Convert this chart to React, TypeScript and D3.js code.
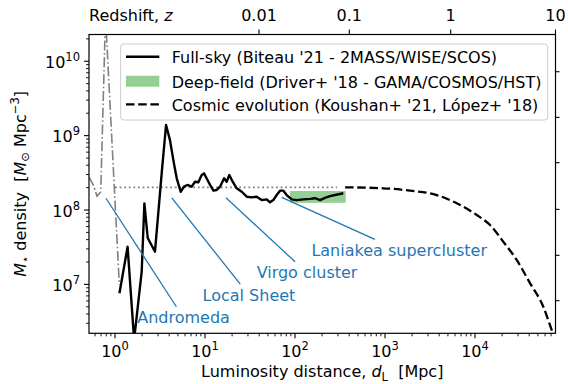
import React from 'react';
import * as d3 from 'd3';

// ---------- data ----------
// axis limits
const xDomain = [0.514, 78400]; // luminosity distance [Mpc]
const yDomain = [2.2e6, 2.29e10]; // stellar mass density [Msun / Mpc^3]

// Full-sky (Biteau '21)
const fullSkyDist = [1.12, 1.38, 1.63, 1.98, 2.12, 2.31, 2.78, 3.3, 3.69, 4.08, 4.52, 4.85, 5.37, 5.84, 6.36, 7.11, 7.74, 8.43, 9.19, 9.75, 10.4, 11.4, 12.4, 13.5, 14.7, 16.3, 17.4, 18.6, 20.3, 22.5, 25.6, 29.1, 33.0, 37.5, 42.7, 48.5, 52.7, 57.4, 62.6, 68.1, 74.1, 80.9, 91.9, 104, 124, 147, 167, 190, 215, 245, 278, 344];
const fullSkyDensity = [7.6e6, 3.2e7, 1.8e6, 1.5e7, 1.23e8, 4.2e7, 2.75e7, 3.1e8, 1.39e9, 8.7e8, 4.2e8, 2.67e8, 1.76e8, 2.06e8, 2.17e8, 2.06e8, 2.4e8, 2.36e8, 2.95e8, 3.11e8, 2.67e8, 2.17e8, 1.82e8, 1.86e8, 2.06e8, 2.67e8, 2.4e8, 2.95e8, 2.4e8, 1.96e8, 1.76e8, 1.51e8, 1.48e8, 1.51e8, 1.36e8, 1.39e8, 1.27e8, 1.36e8, 1.59e8, 1.82e8, 1.82e8, 1.59e8, 1.39e8, 1.36e8, 1.39e8, 1.41e8, 1.44e8, 1.36e8, 1.46e8, 1.54e8, 1.59e8, 1.68e8];

// Local (very nearby) gray dash-dot curve
const localDist = [0.514, 0.58, 0.631, 0.694, 0.784, 1.117];
const localDensity = [2.8e8, 2.1e8, 1.54e8, 1.75e8, 4.0e10, 9.8e6];

// Deep-field band (Driver+ '18)
const deepFieldDist = [88, 366];
const deepFieldDensity = [1.25e8, 1.8e8];

// Cosmic evolution (Koushan+ '21, López+ '18)
const cosmicDist = [360, 957, 1897, 3750, 6266, 10450, 14690, 20610, 29040, 40830, 57410, 71120, 78400];
const cosmicDensity = [2.02e8, 1.96e8, 1.82e8, 1.59e8, 1.23e8, 8.57e7, 6.28e7, 3.75e7, 2.13e7, 1.04e7, 5.01e6, 2.44e6, 1.79e6];

// local-universe reference level (dotted)
const dottedDist = [1, 293];
const dottedDensity = [2.02e8, 2.02e8];

// annotations
const annotationLabels = ['Andromeda', 'Local Sheet', 'Virgo cluster', 'Laniakea supercluster'];
const annotationTargetDist = [0.794, 4.27, 17.1, 71.1];
const annotationTargetDensity = [1.44e8, 1.46e8, 1.46e8, 1.48e8];
const annotationTextDist = [5.77, 30.8, 136, 1438];
const annotationTextDensity = [3.56e6, 7.16e6, 1.43e7, 2.86e7];

// top axis: redshift ticks and matching luminosity distances
const redshiftTicks = ['0.01', '0.1', '1', '10'];
const redshiftTickDist = [39.8, 401, 5370, 78400];

// right-side unlabeled ticks
const rightTickDensities = [7.23e9, 1.76e9, 4.33e8, 1.02e8, 2.46e7, 6.04e6];

const legendLabels = [
  "Full-sky (Biteau '21 - 2MASS/WISE/SCOS)",
  "Deep-field (Driver+ '18 - GAMA/COSMOS/HST)",
  "Cosmic evolution (Koushan+ '21, López+ '18)",
];

// ---------- layout ----------
const W = 568;
const H = 384;
const M = { left: 89, right: 555.5, top: 34.5, bottom: 333.3 };
const FONT = "'DejaVu Sans', sans-serif";
const FS = 16;
const C0 = '#1f77b4';

function logTicks(dom: number[]) {
  const out: { v: number; major: boolean }[] = [];
  const lo = Math.floor(Math.log10(dom[0]));
  const hi = Math.ceil(Math.log10(dom[1]));
  for (let e = lo; e <= hi; e++) {
    for (let m = 1; m <= 9; m++) {
      const v = m * Math.pow(10, e);
      if (v >= dom[0] * 0.9999 && v <= dom[1] * 1.0001) out.push({ v, major: m === 1 });
    }
  }
  return out;
}

function Pow({ x, y, exp, anchor }: { x: number; y: number; exp: string; anchor: string }) {
  return (
    <text x={x} y={y} textAnchor={anchor} fontFamily={FONT} fontSize={FS} fill="#000">
      10
      <tspan dy={-7} fontSize={11.5}>{exp}</tspan>
    </text>
  );
}

export default function App() {
  const x = d3.scaleLog().domain(xDomain).range([M.left, M.right]);
  const y = d3.scaleLog().domain(yDomain).range([M.bottom, M.top]);
  const line = d3
    .line<[number, number]>()
    .x((d) => x(d[0]))
    .y((d) => y(d[1]));
  const smooth = d3
    .line<[number, number]>()
    .x((d) => x(d[0]))
    .y((d) => y(d[1]))
    .curve(d3.curveMonotoneX);

  const zip = (a: number[], b: number[]) => a.map((v, i) => [v, b[i]] as [number, number]);

  const xt = logTicks(xDomain);
  const yt = logTicks(yDomain);

  const legX0 = 120.7;
  const legY0 = 44;
  const legW = 427;
  const legH = 76;
  const rows = [56.8, 81.2, 104.4];
  const hx0 = 126;
  const hx1 = 159.3;
  const tx = 171.7;

  return (
    <svg width={W} height={H} style={{ position: 'absolute', left: 0, top: 0 }} xmlns="http://www.w3.org/2000/svg">
      <defs>
        <clipPath id="plotclip">
          <rect x={M.left} y={M.top} width={M.right - M.left} height={M.bottom - M.top} />
        </clipPath>
      </defs>
      <rect x={0} y={0} width={W} height={H} fill="#fff" />

      <g clipPath="url(#plotclip)">
        {/* deep-field band */}
        <rect
          x={x(deepFieldDist[0])}
          y={y(deepFieldDensity[1])}
          width={x(deepFieldDist[1]) - x(deepFieldDist[0])}
          height={y(deepFieldDensity[0]) - y(deepFieldDensity[1])}
          fill="#2ca02c"
          fillOpacity={0.5}
        />
        {/* dotted reference */}
        <path d={line(zip(dottedDist, dottedDensity)) || ''} fill="none" stroke="#808080" strokeWidth={1.8} strokeDasharray="1.8,2.8" />
        {/* local dash-dot */}
        <path d={line(zip(localDist, localDensity)) || ''} fill="none" stroke="#808080" strokeWidth={1.6} strokeDasharray="10,2.6,1.6,2.6" />
        {/* cosmic evolution */}
        <path d={smooth(zip(cosmicDist, cosmicDensity)) || ''} fill="none" stroke="#000" strokeWidth={2.3} strokeDasharray="8.5,3.7" />
        {/* full-sky */}
        <path d={line(zip(fullSkyDist, fullSkyDensity)) || ''} fill="none" stroke="#000" strokeWidth={2.4} strokeLinejoin="round" />
      </g>

      {/* annotations */}
      {annotationLabels.map((lab, i) => {
        const sx = x(annotationTargetDist[i]);
        const sy = y(annotationTargetDensity[i]);
        const cx = x(annotationTextDist[i]);
        const cy = y(annotationTextDensity[i]);
        const dx = cx - sx;
        const dy = cy - sy;
        const halfH = 11;
        const halfW = lab.length * 4.7;
        const t = 1 - Math.min(halfH / Math.abs(dy), halfW / Math.abs(dx));
        return (
          <g key={lab}>
            <line x1={sx} y1={sy} x2={sx + t * dx} y2={sy + t * dy} stroke={C0} strokeWidth={1.3} />
            <text x={cx} y={cy + 5.5} textAnchor="middle" fontFamily={FONT} fontSize={FS} fill={C0}>
              {lab}
            </text>
          </g>
        );
      })}

      {/* spines */}
      <rect x={M.left} y={M.top} width={M.right - M.left} height={M.bottom - M.top} fill="none" stroke="#000" strokeWidth={1.2} />

      {/* bottom ticks */}
      {xt.map((t, i) => (
        <line key={'xb' + i} x1={x(t.v)} x2={x(t.v)} y1={M.bottom} y2={M.bottom + (t.major ? 5 : 3)} stroke="#000" strokeWidth={t.major ? 1.1 : 0.9} />
      ))}
      {xt
        .filter((t) => t.major)
        .map((t, i) => (
          <Pow key={'xl' + i} x={x(t.v)} y={356.5} exp={String(Math.round(Math.log10(t.v)))} anchor="middle" />
        ))}

      {/* left ticks */}
      {yt.map((t, i) => (
        <line key={'yl' + i} x1={M.left} x2={M.left - (t.major ? 5 : 3)} y1={y(t.v)} y2={y(t.v)} stroke="#000" strokeWidth={t.major ? 1.1 : 0.9} />
      ))}
      {yt
        .filter((t) => t.major)
        .map((t, i) => (
          <Pow key={'yll' + i} x={80} y={y(t.v) + 6.5} exp={String(Math.round(Math.log10(t.v)))} anchor="end" />
        ))}

      {/* right ticks */}
      {rightTickDensities.map((v, i) => (
        <line key={'yr' + i} x1={M.right} x2={M.right + 4} y1={y(v)} y2={y(v)} stroke="#000" strokeWidth={1.1} />
      ))}

      {/* top ticks: redshift */}
      {redshiftTickDist.map((d, i) => (
        <g key={'zt' + i}>
          <line x1={x(d)} x2={x(d)} y1={M.top} y2={M.top - 5} stroke="#000" strokeWidth={1.1} />
          <text x={x(d)} y={20.5} textAnchor="middle" fontFamily={FONT} fontSize={FS} fill="#000">
            {redshiftTicks[i]}
          </text>
        </g>
      ))}
      <text x={M.left} y={20.5} fontFamily={FONT} fontSize={FS} fill="#000" style={{ whiteSpace: 'pre' }}>
        {'Redshift, '}
        <tspan fontStyle="italic">z</tspan>
      </text>

      {/* axis labels */}
      <text x={(M.left + M.right) / 2} y={377} textAnchor="middle" fontFamily={FONT} fontSize={FS} fill="#000" style={{ whiteSpace: 'pre' }}>
        {'Luminosity distance, '}
        <tspan fontStyle="italic">d</tspan>
        <tspan dy={3.5} fontSize={11.5}>L</tspan>
        <tspan dy={-3.5}>{'  [Mpc]'}</tspan>
      </text>
      <text
        transform={`translate(25.5,${(M.top + M.bottom) / 2}) rotate(-90)`}
        textAnchor="middle"
        fontFamily={FONT}
        fontSize={FS}
        fill="#000"
        style={{ whiteSpace: 'pre' }}
      >
        <tspan fontStyle="italic">M</tspan>
        <tspan dy={3.5} fontSize={11.5}>⋆</tspan>
        <tspan dy={-3.5}>{' density  ['}</tspan>
        <tspan fontStyle="italic">M</tspan>
        <tspan dy={3.5} fontSize={11.5}>⊙</tspan>
        <tspan dy={-3.5}>{' Mpc'}</tspan>
        <tspan dy={-7} fontSize={11.5}>−3</tspan>
        <tspan dy={7}>]</tspan>
      </text>

      {/* legend */}
      <rect x={legX0} y={legY0} width={legW} height={legH} rx={3} fill="#fff" fillOpacity={0.8} stroke="#cccccc" strokeWidth={1} />
      <line x1={hx0} x2={hx1} y1={rows[0]} y2={rows[0]} stroke="#000" strokeWidth={2.4} />
      <rect x={hx0} y={rows[1] - 5.5} width={hx1 - hx0} height={11} fill="#2ca02c" fillOpacity={0.5} />
      <line x1={hx0} x2={hx1} y1={rows[2]} y2={rows[2]} stroke="#000" strokeWidth={2.3} strokeDasharray="8.5,3.7" />
      {legendLabels.map((lab, i) => (
        <text key={lab} x={tx} y={rows[i] + 6.3} fontFamily={FONT} fontSize={FS} fill="#000">
          {lab}
        </text>
      ))}
    </svg>
  );
}
